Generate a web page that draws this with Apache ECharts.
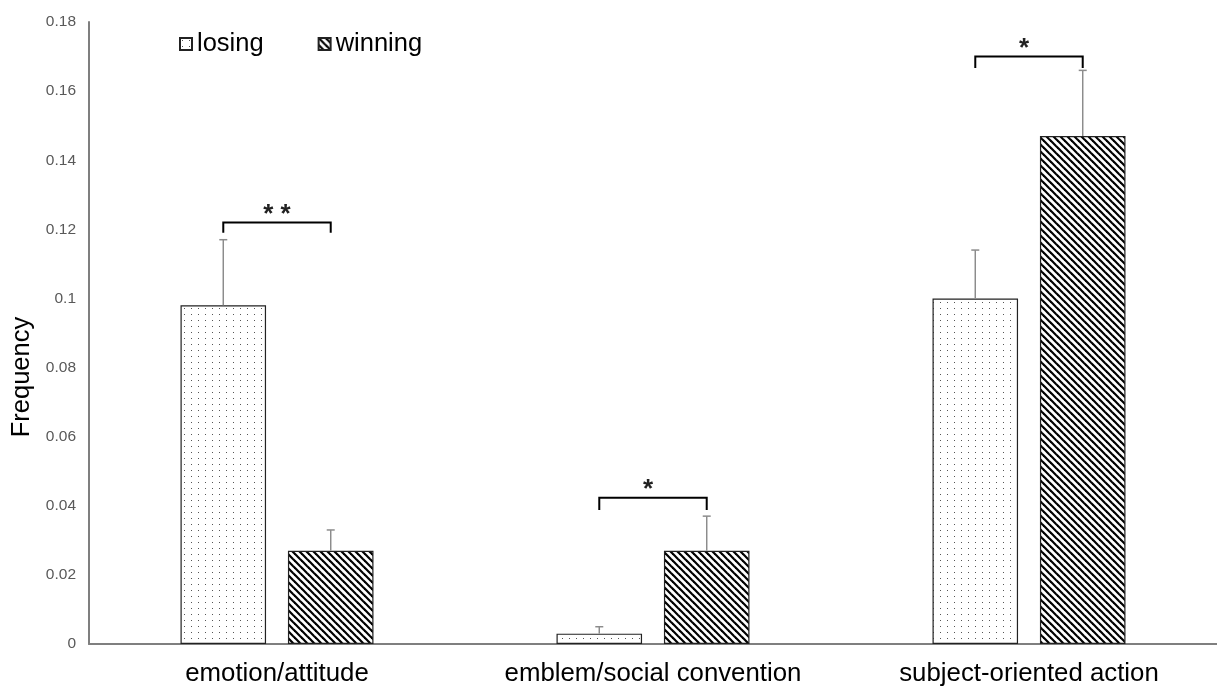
<!DOCTYPE html>
<html>
<head>
<meta charset="utf-8">
<script src="https://cdn.jsdelivr.net/npm/echarts@6/dist/echarts.min.js"></script>
<style>html,body{margin:0;padding:0;background:#fff}#c{width:1217px;height:686px}</style>
</head>
<body>
<div id="c"></div>
<script>
const categories = ['emotion/attitude', 'emblem/social convention', 'subject-oriented action'];
const losing = [0.098, 0.003, 0.100];
const winning = [0.027, 0.027, 0.147];
const losingErrTop = [0.117, 0.005, 0.114];
const winningErrTop = [0.033, 0.037, 0.166];
// significance brackets: [category index, bracket level, tick end level, label]
const bracketCats = [0, 1, 2];
const bracketLevel = [0.122, 0.0423, 0.170];
const bracketTickEnd = [0.119, 0.0388, 0.1667];
const bracketLabels = ['**', '*', '*'];
const yTicks = [0, 0.02, 0.04, 0.06, 0.08, 0.1, 0.12, 0.14, 0.16, 0.18];

const BAR_W = 0.2275;   // bar width as fraction of category band
const BAR_GAP = 0.256;  // gap as fraction of bar width
const OFF = BAR_W / 2 + BAR_W * BAR_GAP / 2;
const FONT = 'Liberation Sans, Arial, sans-serif';

function dotPattern() {
  const c = document.createElement('canvas');
  c.width = 7; c.height = 6;
  const g = c.getContext('2d');
  g.fillStyle = '#fff'; g.fillRect(0, 0, 7, 6);
  g.fillStyle = '#555';
  g.fillRect(2, 2, 1, 1);
  return c;
}
function diagPattern() {
  const s = 7;
  const c = document.createElement('canvas');
  c.width = s; c.height = s;
  const g = c.getContext('2d');
  g.fillStyle = '#fff'; g.fillRect(0, 0, s, s);
  g.strokeStyle = '#000'; g.lineWidth = 2.2;
  for (let k = -1; k <= 1; k++) {
    g.beginPath();
    g.moveTo(k * s - 1, -1);
    g.lineTo(k * s + s + 1, s + 1);
    g.stroke();
  }
  return c;
}
const dotFill = { image: dotPattern(), repeat: 'repeat' };
const diagFill = { image: diagPattern(), repeat: 'repeat' };

function errSeries(values, tops, sign) {
  return {
    type: 'custom',
    z: 3,
    silent: true,
    data: values.map((v, i) => [i, v, tops[i]]),
    encode: { x: 0, y: [1, 2] },
    renderItem: function (params, api) {
      const band = api.size([1, 0])[0];
      const base = api.coord([api.value(0), api.value(1)]);
      const top = api.coord([api.value(0), api.value(2)]);
      const x = base[0] + sign * band * OFF;
      return {
        type: 'group',
        children: [
          { type: 'line', shape: { x1: x, y1: base[1], x2: x, y2: top[1] }, style: { stroke: '#8c8c8c', lineWidth: 1.5 } },
          { type: 'line', shape: { x1: x - 4, y1: top[1], x2: x + 4, y2: top[1] }, style: { stroke: '#8c8c8c', lineWidth: 1.5 } }
        ]
      };
    }
  };
}

const chart = echarts.init(document.getElementById('c'), null, { renderer: 'canvas' });
chart.setOption({
  animation: false,
  backgroundColor: '#fff',
  textStyle: { fontFamily: FONT },
  grid: { left: 89, right: 0, top: 22, bottom: 42, containLabel: false, outerBoundsMode: 'none' },
  legend: {
    left: 179, top: 31, padding: 0,
    itemWidth: 12, itemHeight: 12, itemGap: 54,
    icon: 'rect',
    textStyle: { fontSize: 25.5, color: '#000' },
    data: ['losing', 'winning']
  },
  xAxis: {
    type: 'category',
    data: categories,
    axisLine: { lineStyle: { color: '#7f7f7f', width: 2 } },
    axisTick: { show: false },
    axisLabel: { fontSize: 25.8, color: '#000', margin: 17, interval: 0 }
  },
  yAxis: {
    type: 'value',
    min: 0, max: 0.18, interval: 0.02,
    name: 'Frequency',
    nameLocation: 'middle',
    nameGap: 51,
    nameTextStyle: { fontSize: 25.5, color: '#000', padding: [0, 88, 0, 0] },
    axisLine: { show: true, lineStyle: { color: '#7f7f7f', width: 2 } },
    axisTick: { show: false },
    splitLine: { show: false },
    axisLabel: {
      fontSize: 15.5, color: '#595959', margin: 13,
      formatter: v => { const t = yTicks.find(x => Math.abs(x - v) < 1e-9); return String(t !== undefined ? t : +v.toFixed(2)); }
    }
  },
  series: [
    {
      name: 'losing', type: 'bar', data: losing,
      barWidth: (BAR_W * 100) + '%', barGap: (BAR_GAP * 100) + '%',
      itemStyle: { color: dotFill, borderColor: '#222', borderWidth: 1.2 }
    },
    {
      name: 'winning', type: 'bar', data: winning,
      barWidth: (BAR_W * 100) + '%', barGap: (BAR_GAP * 100) + '%',
      itemStyle: { color: diagFill, borderColor: '#222', borderWidth: 1.2 }
    },
    errSeries(losing, losingErrTop, -1),
    errSeries(winning, winningErrTop, 1),
    {
      type: 'custom',
      silent: true,
      z: 4,
      data: bracketCats.map((c, i) => [c, bracketLevel[i], bracketTickEnd[i]]),
      encode: { x: 0, y: [1, 2] },
      renderItem: function (params, api) {
        const band = api.size([1, 0])[0];
        const p = api.coord([api.value(0), api.value(1)]);
        const q = api.coord([api.value(0), api.value(2)]);
        const xl = p[0] - band * OFF, xr = p[0] + band * OFF;
        const lbl = bracketLabels[params.dataIndex];
        return {
          type: 'group',
          children: [
            { type: 'polyline', shape: { points: [[xl, q[1]], [xl, p[1]], [xr, p[1]], [xr, q[1]]] }, style: { stroke: '#000', lineWidth: 2, fill: null } },
            { type: 'text', style: { text: lbl.split('').join(' '), x: p[0] - (lbl.length === 1 ? 5 : 0), y: p[1] + 5, align: 'center', verticalAlign: 'bottom', fontSize: 26, fontWeight: 'bold', fill: '#222', fontFamily: FONT } }
          ]
        };
      }
    }
  ]
});
</script>
</body>
</html>
